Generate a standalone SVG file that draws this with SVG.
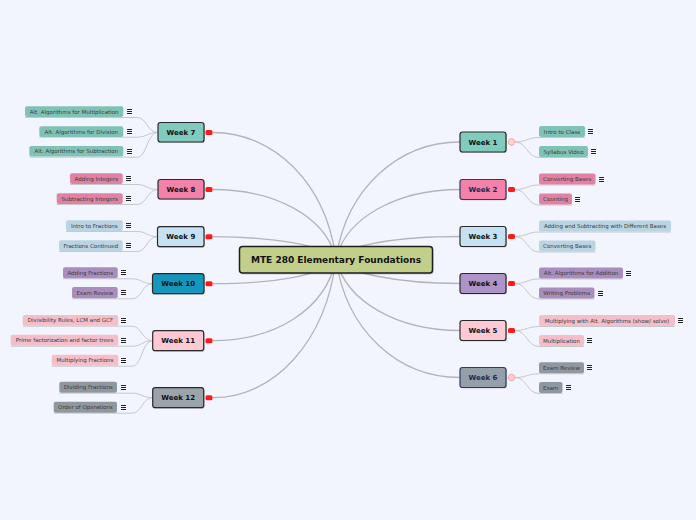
<svg xmlns="http://www.w3.org/2000/svg" xmlns:xlink="http://www.w3.org/1999/xlink" width="696" height="520" viewBox="0 0 696 520">
<defs>
<style>
.bg{fill:#f3f5fe}
.main{stroke:#b3b4ba;stroke-width:1.3;fill:none}
.sub{stroke:#c6c8cd;stroke-width:1;fill:none}
.wk{stroke:#2a2a2a;stroke-width:1.2}
.wt{font-family:"DejaVu Sans",Verdana,sans-serif;font-weight:bold;font-size:7px;fill:#111;text-anchor:middle}
.ct{font-family:"DejaVu Sans",Verdana,sans-serif;font-size:5.5px;fill:#3a3a3a;text-anchor:middle}
.sh{fill:#000;opacity:0.18}
.teal{fill:#7fccbf}.tealc{fill:#80c3b6}
.pink{fill:#f382aa}.pinkc{fill:#e182a4}
.blue{fill:#c6e1f1}.bluec{fill:#bad4e4}
.purple{fill:#ae93c8}.purplec{fill:#a98dbd}
.dblue{fill:#1497bc}
.lpink{fill:#fdc9d4}.lpinkc{fill:#f5bfca}
.gray{fill:#959fa9}.grayc{fill:#8f989f}
.gray2{fill:#9ba4ab}
.navy{stroke:#2d3d66}
.navyt{fill:#1b2a55}
.ind{fill:#ff1a1a}
.ind2{fill:#fbd3d3;stroke:#f07a7a;stroke-width:1;stroke-dasharray:1.2 0.8}
</style>
<symbol id="menu" viewBox="0 0 5 5" width="5" height="5" overflow="visible">
<path d="M0 0.5H5M0 2.5H5M0 4.5H5" stroke="#222" stroke-width="1"/>
</symbol>
</defs>
<rect class="bg" x="0" y="0" width="696" height="520"/>

<g id="connectors">
<path class="main" d="M336 259 C326 183 274 132.5 213 132.5"/>
<path class="main" d="M336 259 C326 216 274 189.5 213 189.5"/>
<path class="main" d="M336 259 C326 246 274 236.7 213 236.7"/>
<path class="main" d="M336 259 C326 275 274 283.7 213 283.7"/>
<path class="main" d="M336 259 C326 310 274 340.7 213 340.7"/>
<path class="main" d="M336 259 C326 342 274 397.7 213 397.7"/>
<path class="main" d="M336 259 C346 189 398 142 460 142"/>
<path class="main" d="M336 259 C346 217 398 189.5 460 189.5"/>
<path class="main" d="M336 259 C346 245 398 236.5 460 236.5"/>
<path class="main" d="M336 259 C346 273 398 283.5 460 283.5"/>
<path class="main" d="M336 259 C346 302 398 330.5 460 330.5"/>
<path class="main" d="M336 259 C346 331 398 377.5 460 377.5"/>
<path class="sub" d="M25 117.5 H137 C147 117.5 147 132.5 158 132.5"/>
<path class="sub" d="M39.3 137.2 H137 C147 137.2 147 132.5 158 132.5"/>
<path class="sub" d="M29.3 157.2 H137 C147 157.2 147 132.5 158 132.5"/>
<path class="sub" d="M70 184.5 H137 C147 184.5 147 189.5 158 189.5"/>
<path class="sub" d="M56.7 204.5 H137 C147 204.5 147 189.5 158 189.5"/>
<path class="sub" d="M66 231.5 H137 C147 231.5 147 236.7 157.5 236.7"/>
<path class="sub" d="M59 251.5 H137 C147 251.5 147 236.7 157.5 236.7"/>
<path class="sub" d="M63 278.8 H132 C142 278.8 142 283.7 152.5 283.7"/>
<path class="sub" d="M72 298.8 H132 C142 298.8 142 283.7 152.5 283.7"/>
<path class="sub" d="M22.7 326.2 H132 C142 326.2 142 340.7 152.7 340.7"/>
<path class="sub" d="M10.7 346.2 H132 C142 346.2 142 340.7 152.7 340.7"/>
<path class="sub" d="M51.7 366.2 H132 C142 366.2 142 340.7 152.7 340.7"/>
<path class="sub" d="M59.3 393.2 H132 C142 393.2 142 397.7 152.7 397.7"/>
<path class="sub" d="M53.7 413.2 H132 C142 413.2 142 397.7 152.7 397.7"/>
<path class="sub" d="M515 142 C527 142 527 137.5 539 137.5 H585"/>
<path class="sub" d="M515 142 C527 142 527 157.5 539 157.5 H588"/>
<path class="sub" d="M515 189.5 C527 189.5 527 185 539 185 H595.5"/>
<path class="sub" d="M515 189.5 C527 189.5 527 205 539 205 H572"/>
<path class="sub" d="M515 236.5 C527 236.5 527 232 539 232 H671"/>
<path class="sub" d="M515 236.5 C527 236.5 527 252 539 252 H595.5"/>
<path class="sub" d="M515 283.5 C527 283.5 527 279 539 279 H623"/>
<path class="sub" d="M515 283.5 C527 283.5 527 299 539 299 H594.5"/>
<path class="sub" d="M515 330.5 C527 330.5 527 326.5 539 326.5 H675"/>
<path class="sub" d="M515 330.5 C527 330.5 527 346.5 539 346.5 H584"/>
<path class="sub" d="M515 377.5 C527 377.5 527 373.8 539 373.8 H584"/>
<path class="sub" d="M515 377.5 C527 377.5 527 393.5 539 393.5 H562.5"/>
</g>

<g id="central">
<rect class="sh" x="240.5" y="247.5" width="193" height="27" rx="3"/>
<rect x="239.5" y="246.5" width="193" height="26.5" rx="3" fill="#c2cf8a" stroke="#1e1e1e" stroke-width="1.5"/>
<text x="336" y="262.8" font-family="DejaVu Sans,Verdana,sans-serif" font-weight="bold" font-size="9" fill="#111" text-anchor="middle">MTE 280 Elementary Foundations</text>
</g>

<g id="week1">
<rect class="sh" x="461" y="133" width="46" height="20" rx="2.5"/>
<rect class="wk teal" x="460" y="132" width="46" height="20" rx="2.5"/>
<text class="wt" x="483" y="144.5">Week 1</text>
<circle class="ind2" cx="511.5" cy="142" r="3.3"/>
</g>
<g id="week2">
<rect class="sh" x="461" y="180.5" width="46" height="20" rx="2.5"/>
<rect class="wk pink navy" x="460" y="179.5" width="46" height="20" rx="2.5"/>
<text class="wt navyt" x="483" y="192">Week 2</text>
<rect class="ind" x="508" y="187" width="7" height="5" rx="1.5"/>
</g>
<g id="week3">
<rect class="sh" x="461" y="227.5" width="46" height="20" rx="2.5"/>
<rect class="wk blue" x="460" y="226.5" width="46" height="20" rx="2.5"/>
<text class="wt" x="483" y="239">Week 3</text>
<rect class="ind" x="508" y="234" width="7" height="5" rx="1.5"/>
</g>
<g id="week4">
<rect class="sh" x="461" y="274.5" width="46" height="20" rx="2.5"/>
<rect class="wk purple" x="460" y="273.5" width="46" height="20" rx="2.5"/>
<text class="wt" x="483" y="286">Week 4</text>
<rect class="ind" x="508" y="281" width="7" height="5" rx="1.5"/>
</g>
<g id="week5">
<rect class="sh" x="461" y="321.5" width="46" height="20" rx="2.5"/>
<rect class="wk lpink" x="460" y="320.5" width="46" height="20" rx="2.5"/>
<text class="wt" x="483" y="333">Week 5</text>
<rect class="ind" x="508" y="328" width="7" height="5" rx="1.5"/>
</g>
<g id="week6">
<rect class="sh" x="461" y="368.5" width="46" height="20" rx="2.5"/>
<rect class="wk gray navy" x="460" y="367.5" width="46" height="20" rx="2.5"/>
<text class="wt navyt" x="483" y="380">Week 6</text>
<circle class="ind2" cx="511.5" cy="377.5" r="3.3"/>
</g>

<g id="week7">
<rect class="sh" x="159" y="123.5" width="46" height="19.5" rx="2.5"/>
<rect class="wk teal" x="158" y="122.5" width="46" height="19.5" rx="2.5"/>
<text class="wt" x="181" y="135">Week 7</text>
<rect class="ind" x="205.5" y="130" width="7" height="5" rx="1.5"/>
</g>
<g id="week8">
<rect class="sh" x="159" y="180.5" width="46" height="19.5" rx="2.5"/>
<rect class="wk pink" x="158" y="179.5" width="46" height="19.5" rx="2.5"/>
<text class="wt" x="181" y="192">Week 8</text>
<rect class="ind" x="205.5" y="187" width="7" height="5" rx="1.5"/>
</g>
<g id="week9">
<rect class="sh" x="158.5" y="227.7" width="46.5" height="20" rx="2.5"/>
<rect class="wk blue" x="157.5" y="226.7" width="46.5" height="20" rx="2.5"/>
<text class="wt" x="180.8" y="239.2">Week 9</text>
<rect class="ind" x="205.5" y="234.2" width="7" height="5" rx="1.5"/>
</g>
<g id="week10">
<rect class="sh" x="153.5" y="274.7" width="51.5" height="20" rx="2.5"/>
<rect class="wk dblue" x="152.5" y="273.7" width="51.5" height="20" rx="2.5"/>
<text class="wt" x="178.2" y="286.2">Week 10</text>
<rect class="ind" x="205.5" y="281.2" width="7" height="5" rx="1.5"/>
</g>
<g id="week11">
<rect class="sh" x="153.7" y="331.7" width="51" height="20" rx="2.5"/>
<rect class="wk lpink" x="152.7" y="330.7" width="51" height="20" rx="2.5"/>
<text class="wt" x="178.2" y="343.2">Week 11</text>
<rect class="ind" x="205.5" y="338.2" width="7" height="5" rx="1.5"/>
</g>
<g id="week12">
<rect class="sh" x="153.7" y="388.7" width="51" height="20" rx="2.5"/>
<rect class="wk gray2" x="152.7" y="387.7" width="51" height="20" rx="2.5"/>
<text class="wt" x="178.2" y="400.2">Week 12</text>
<rect class="ind" x="205.5" y="395.2" width="7" height="5" rx="1.5"/>
</g>

<g id="w1a"><rect class="tealc" x="539" y="126" width="46" height="11" rx="2"/><text class="ct" x="562" y="133.5">Intro to Class</text><use xlink:href="#menu" x="588" y="129"/></g>
<g id="w1b"><rect class="tealc" x="539" y="146" width="49" height="11" rx="2"/><text class="ct" x="563.5" y="153.5">Syllabus Video</text><use xlink:href="#menu" x="591" y="149"/></g>
<g id="w2a"><rect class="pinkc" x="539" y="173.5" width="56.5" height="11" rx="2"/><text class="ct" x="567.2" y="181">Converting Bases</text><use xlink:href="#menu" x="599" y="177"/></g>
<g id="w2b"><rect class="pinkc" x="539" y="193.5" width="33" height="11" rx="2"/><text class="ct" x="555.5" y="201">Counting</text><use xlink:href="#menu" x="575" y="197"/></g>
<g id="w3a"><rect class="bluec" x="539" y="220.5" width="132" height="11" rx="2"/><text class="ct" x="605" y="228">Adding and Subtracting with Different Bases</text></g>
<g id="w3b"><rect class="bluec" x="539" y="240.5" width="56.5" height="11" rx="2"/><text class="ct" x="567.2" y="248">Converting Bases</text></g>
<g id="w4a"><rect class="purplec" x="539" y="267.5" width="84" height="11" rx="2"/><text class="ct" x="581" y="275">Alt. Algorithms for Addition</text><use xlink:href="#menu" x="626" y="271"/></g>
<g id="w4b"><rect class="purplec" x="539" y="287.5" width="55.5" height="11" rx="2"/><text class="ct" x="566.7" y="295">Writing Problems</text><use xlink:href="#menu" x="598" y="291"/></g>
<g id="w5a"><rect class="lpinkc" x="539" y="315" width="136" height="11" rx="2"/><text class="ct" x="607" y="322.5">Multiplying with Alt. Algorithms (show/ solve)</text><use xlink:href="#menu" x="678" y="318"/></g>
<g id="w5b"><rect class="lpinkc" x="539" y="335" width="45" height="11" rx="2"/><text class="ct" x="561.5" y="342.5">Multiplication</text><use xlink:href="#menu" x="587" y="338"/></g>
<g id="w6a"><rect class="grayc" x="539" y="362.3" width="45" height="11" rx="2"/><text class="ct" x="561.5" y="369.8">Exam Review</text><use xlink:href="#menu" x="587" y="365"/></g>
<g id="w6b"><rect class="grayc" x="539" y="382" width="23.5" height="11" rx="2"/><text class="ct" x="550.7" y="389.5">Exam</text><use xlink:href="#menu" x="566" y="385"/></g>

<g id="w7a"><rect class="tealc" x="25" y="106.3" width="98.3" height="10.6" rx="2"/><text class="ct" x="74.2" y="113.6">Alt. Algorithms for Multiplication</text><use xlink:href="#menu" x="127" y="109"/></g>
<g id="w7b"><rect class="tealc" x="39.3" y="126.3" width="84" height="10.6" rx="2"/><text class="ct" x="81.3" y="133.6">Alt. Algorithms for Division</text><use xlink:href="#menu" x="127" y="129"/></g>
<g id="w7c"><rect class="tealc" x="29.3" y="146" width="94" height="10.6" rx="2"/><text class="ct" x="76.3" y="153.3">Alt. Algorithms for Subtraction</text><use xlink:href="#menu" x="127" y="149"/></g>
<g id="w8a"><rect class="pinkc" x="70" y="173.3" width="52.7" height="10.7" rx="2"/><text class="ct" x="96.3" y="180.6">Adding Integers</text><use xlink:href="#menu" x="126" y="176"/></g>
<g id="w8b"><rect class="pinkc" x="56.7" y="193.3" width="66" height="10.7" rx="2"/><text class="ct" x="89.7" y="200.6">Subtracting Integers</text><use xlink:href="#menu" x="126" y="196"/></g>
<g id="w9a"><rect class="bluec" x="66" y="220.3" width="56.7" height="10.7" rx="2"/><text class="ct" x="94.3" y="227.6">Intro to Fractions</text><use xlink:href="#menu" x="126" y="223"/></g>
<g id="w9b"><rect class="bluec" x="59" y="240.3" width="63.7" height="10.7" rx="2"/><text class="ct" x="90.8" y="247.6">Fractions Continued</text><use xlink:href="#menu" x="126" y="243"/></g>
<g id="w10a"><rect class="purplec" x="63" y="267.3" width="54.7" height="11" rx="2"/><text class="ct" x="90.3" y="274.8">Adding Fractions</text><use xlink:href="#menu" x="121" y="270"/></g>
<g id="w10b"><rect class="purplec" x="72" y="287" width="45.7" height="11.3" rx="2"/><text class="ct" x="94.8" y="294.6">Exam Review</text><use xlink:href="#menu" x="121" y="290"/></g>
<g id="w11a"><rect class="lpinkc" x="22.7" y="315" width="95.6" height="10.7" rx="2"/><text class="ct" x="70.5" y="322.3">Divisibility Rules, LCM and GCF</text><use xlink:href="#menu" x="121" y="318"/></g>
<g id="w11b"><rect class="lpinkc" x="10.7" y="334.7" width="107.6" height="11" rx="2"/><text class="ct" x="64.5" y="342.2">Prime factorization and factor trees</text><use xlink:href="#menu" x="121" y="338"/></g>
<g id="w11c"><rect class="lpinkc" x="51.7" y="354.7" width="66.6" height="11" rx="2"/><text class="ct" x="85" y="362.2">Multiplying Fractions</text><use xlink:href="#menu" x="121" y="358"/></g>
<g id="w12a"><rect class="grayc" x="59.3" y="381.7" width="57.7" height="11" rx="2"/><text class="ct" x="88.2" y="389.2">Dividing Fractions</text><use xlink:href="#menu" x="121" y="385"/></g>
<g id="w12b"><rect class="grayc" x="53.7" y="401.7" width="63.3" height="11" rx="2"/><text class="ct" x="85.4" y="409.2">Order of Operations</text><use xlink:href="#menu" x="121" y="405"/></g>
</svg>
